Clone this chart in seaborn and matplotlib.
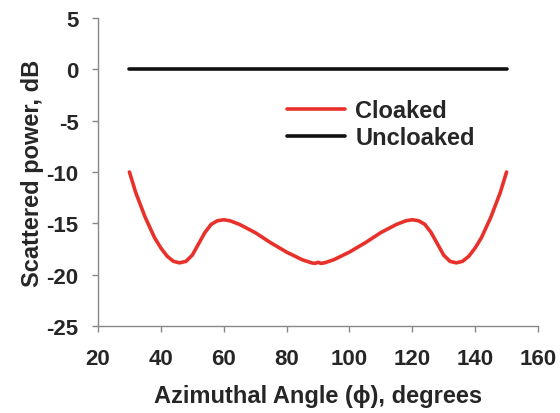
import matplotlib
matplotlib.use("Agg")
import matplotlib.pyplot as plt
import seaborn as sns
import pandas as pd

angles = [30, 32, 35, 38, 40, 42, 44, 46, 48, 50, 52, 54, 56, 58, 60, 62, 65, 70, 75, 80, 85, 88, 89, 90,
          91, 92, 95, 100, 105, 110, 115, 118, 120, 122, 124, 126, 128, 130, 132, 134, 136, 138, 140, 142, 145, 148, 150]
cloaked = [-10.0, -12.0, -14.4, -16.4, -17.4, -18.2, -18.7, -18.85, -18.7, -18.1, -17.0, -15.9, -15.1, -14.75, -14.65, -14.75, -15.1, -15.9, -16.9, -17.8, -18.55, -18.85, -18.9, -18.8,
           -18.9, -18.85, -18.55, -17.8, -16.9, -15.9, -15.1, -14.75, -14.65, -14.75, -15.1, -15.9, -17.0, -18.1, -18.7, -18.85, -18.7, -18.2, -17.4, -16.4, -14.4, -12.0, -10.0]
unc_angles = [30, 150]
uncloaked = [0, 0]

xticks = [20, 40, 60, 80, 100, 120, 140, 160]
yticks = [5, 0, -5, -10, -15, -20, -25]

sns.set_style("white")
plt.rcParams['font.family'] = ['Liberation Sans', 'DejaVu Sans']
plt.rcParams['font.weight'] = 'bold'
plt.rcParams['axes.unicode_minus'] = False

fig = plt.figure(figsize=(5.6, 4.14), dpi=100)
ax = fig.add_axes([98 / 560, 1 - 327 / 414, 440 / 560, 308 / 414])

df_c = pd.DataFrame({"angle": angles, "power": cloaked})
df_u = pd.DataFrame({"angle": unc_angles, "power": uncloaked})
sns.lineplot(data=df_c, x="angle", y="power", ax=ax, color="#e8312a", lw=2.6, label="Cloaked", sort=False)
sns.lineplot(data=df_u, x="angle", y="power", ax=ax, color="#111111", lw=2.6, label="Uncloaked")

ax.set_xlim(20, 160)
ax.set_ylim(-25, 5)
ax.set_xticks(xticks)
ax.set_yticks(yticks)
ax.set_xticklabels([str(v) for v in xticks], fontsize=16, fontweight='bold')
ax.set_yticklabels([str(v) for v in yticks], fontsize=16, fontweight='bold')
ax.tick_params(axis='both', length=4, width=1, color="#888888", direction='out',
               bottom=True, left=True)
ax.tick_params(axis='x', pad=12)
ax.tick_params(axis='y', pad=10)
for s in ['top', 'right']:
    ax.spines[s].set_visible(False)
for s in ['left', 'bottom']:
    ax.spines[s].set_color("#888888")
    ax.spines[s].set_linewidth(1)

ax.set_xlabel("Azimuthal Angle (\u03d5), degrees", fontsize=17, fontweight='bold', labelpad=11)
ax.set_ylabel("Scattered power, dB", fontsize=17, fontweight='bold', labelpad=2)

leg = ax.legend(loc='upper left', bbox_to_anchor=(287 / 560, 1 - 100 / 414),
                bbox_transform=fig.transFigure, frameon=False, fontsize=17,
                borderaxespad=0, borderpad=0,
                handlelength=2.45, handletextpad=0.45, labelspacing=0.18)
for t in leg.get_texts():
    t.set_fontweight('bold')

fig.savefig("out.png", dpi=100)
